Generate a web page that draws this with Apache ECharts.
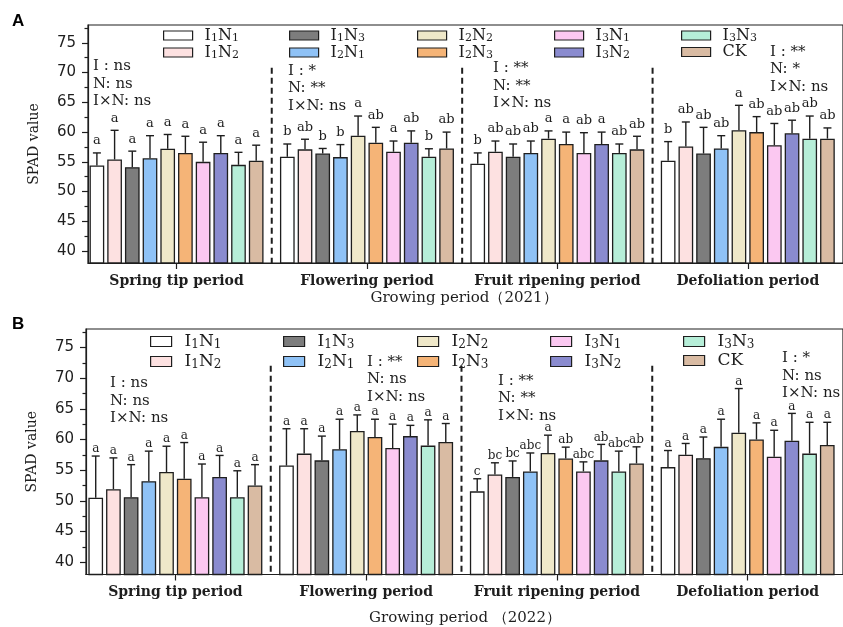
<!DOCTYPE html>
<html><head><meta charset="utf-8">
<script src="https://cdn.jsdelivr.net/npm/echarts@6/dist/echarts.min.js"></script>
<style>html,body{margin:0;padding:0;background:#fff}#c{width:843px;height:627px}</style>
</head><body><div id="c"></div>
<script>
// ---------- DATA ----------
const periods = ['Spring tip period', 'Flowering period', 'Fruit ripening period', 'Defoliation period'];
const treatments = ['I1N1', 'I1N2', 'I1N3', 'I2N1', 'I2N2', 'I2N3', 'I3N1', 'I3N2', 'I3N3', 'CK'];
const colors = ['#ffffff', '#fde1e1', '#7d7d7d', '#8fc2f6', '#efe8c9', '#f5b477', '#fbc8f1', '#8a8bcf', '#b6eed8', '#d9bba3'];
const yTicks = [40, 45, 50, 55, 60, 65, 70, 75];
const yMinorTicks = [42.5, 47.5, 52.5, 57.5, 62.5, 67.5, 72.5, 77.5];

// Panel A (2021) – means, SD, letters per period (order of treatments)
const meanA_spring = [54.4, 55.4, 54.1, 55.6, 57.2, 56.5, 55.0, 56.5, 54.5, 55.2];
const sdA_spring   = [2.1, 4.9, 2.7, 3.8, 2.4, 2.8, 3.3, 2.9, 2.1, 2.6];
const letA_spring  = ['a', 'a', 'a', 'a', 'a', 'a', 'a', 'a', 'a', 'a'];
const meanA_flower = [55.85, 57.1, 56.4, 55.8, 59.4, 58.2, 56.7, 58.2, 55.85, 57.25];
const sdA_flower   = [2.15, 1.7, 0.85, 2.1, 3.3, 2.6, 1.8, 2.0, 1.35, 2.75];
const letA_flower  = ['b', 'ab', 'b', 'b', 'a', 'ab', 'a', 'ab', 'b', 'ab'];
const meanA_fruit  = [54.7, 56.7, 55.85, 56.5, 58.9, 58.0, 56.5, 58.0, 56.5, 57.1];
const sdA_fruit    = [1.8, 1.8, 2.15, 2.0, 1.3, 2.0, 3.4, 2.0, 1.5, 2.2];
const letA_fruit   = ['b', 'ab', 'ab', 'ab', 'a', 'a', 'ab', 'a', 'ab', 'ab'];
const meanA_defol  = [55.2, 57.6, 56.4, 57.25, 60.3, 60.0, 57.8, 59.8, 58.9, 58.9];
const sdA_defol    = [3.2, 4.1, 4.4, 2.15, 4.2, 2.6, 3.65, 2.2, 3.8, 1.8];
const letA_defol   = ['b', 'ab', 'ab', 'ab', 'a', 'ab', 'ab', 'ab', 'ab', 'ab'];
const sigA = [['ns', 'ns', 'ns'], ['*', '**', 'ns'], ['**', '**', 'ns'], ['**', '*', 'ns']];

// Panel B (2022)
const meanB_spring = [50.5, 51.9, 50.6, 53.2, 54.7, 53.6, 50.6, 53.9, 50.6, 52.5];
const sdB_spring   = [6.8, 5.1, 5.3, 4.9, 4.2, 5.9, 5.4, 3.5, 4.3, 3.4];
const letB_spring  = ['a', 'a', 'a', 'a', 'a', 'a', 'a', 'a', 'a', 'a'];
const meanB_flower = [55.75, 57.7, 56.6, 58.4, 61.4, 60.4, 58.6, 60.55, 59.0, 59.6];
const sdB_flower   = [6.0, 4.05, 3.95, 4.9, 2.6, 2.9, 3.9, 1.75, 4.2, 3.0];
const letB_flower  = ['a', 'a', 'a', 'a', 'a', 'a', 'a', 'a', 'a', 'a'];
const meanB_fruit  = [51.55, 54.3, 53.9, 54.8, 57.8, 56.9, 54.8, 56.6, 54.8, 56.1];
const sdB_fruit    = [2.05, 1.9, 2.6, 3.0, 2.9, 1.85, 1.55, 2.6, 3.3, 2.7];
const letB_fruit   = ['c', 'bc', 'bc', 'abc', 'a', 'ab', 'abc', 'ab', 'abc', 'ab'];
const meanB_defol  = [55.5, 57.5, 56.95, 58.8, 61.1, 60.0, 57.2, 59.8, 57.7, 59.1];
const sdB_defol    = [2.7, 1.85, 3.45, 4.5, 7.2, 2.7, 4.3, 4.45, 5.1, 3.7];
const letB_defol   = ['a', 'a', 'a', 'a', 'a', 'a', 'a', 'a', 'a', 'a'];
const sigB = [['ns', 'ns', 'ns'], ['**', 'ns', 'ns'], ['**', '**', 'ns'], ['*', 'ns', 'ns']];

// ---------- BUILD ----------
const SERIF = 'DejaVu Serif';
const SANS = 'DejaVu Sans';
const INK = '#1e1e1e';
const BAR_W = 14.7, BAR_GAP = 3.0, PITCH = BAR_W + BAR_GAP;

const panels = [
  { means: [meanA_spring, meanA_flower, meanA_fruit, meanA_defol],
    sds: [sdA_spring, sdA_flower, sdA_fruit, sdA_defol],
    lets: [letA_spring, letA_flower, letA_fruit, letA_defol],
    sig: sigA, xmin: 0.035, grid: { left: 88, right: -12.2, top: 25, bottom: 364 },
    divTop: 70.8, letOff: 12, letSize: 13 },
  { means: [meanB_spring, meanB_flower, meanB_fruit, meanB_defol],
    sds: [sdB_spring, sdB_flower, sdB_fruit, sdB_defol],
    lets: [letB_spring, letB_flower, letB_fruit, letB_defol],
    sig: sigB, xmin: 0.0315, grid: { left: 86, right: -12.1, top: 329, bottom: 52.5 },
    divTop: 72.0, letOff: 7, letSize: 12 }
];

const grids = [], xAxes = [], yAxes = [], series = [];
panels.forEach((P, g) => {
  grids.push(Object.assign({ show: true, borderColor: INK, borderWidth: 1.2, backgroundColor: 'transparent' }, P.grid));
  xAxes.push({
    type: 'value', gridIndex: g, min: P.xmin, max: 4, splitLine: { show: false },
    axisLine: { show: true, onZero: false, lineStyle: { color: INK, width: 1.2 } },
    axisTick: { show: true, customValues: [0.5, 1.5, 2.5, 3.5], length: 6, lineStyle: { color: INK, width: 1.2 } },
    axisLabel: { show: true, customValues: [0.5, 1.5, 2.5, 3.5], margin: 11,
      formatter: v => periods[Math.floor(v)], fontFamily: SERIF, fontWeight: 'bold', fontSize: 14, color: INK }
  });
  yAxes.push({
    type: 'value', gridIndex: g, min: 38, max: 78, position: 'left',
    name: 'SPAD value', nameLocation: 'middle', nameGap: 47,
    nameTextStyle: { fontFamily: SERIF, fontSize: 14, color: INK },
    splitLine: { show: false },
    axisLine: { show: true, lineStyle: { color: INK, width: 1.2 } },
    axisTick: { show: true, customValues: yTicks, length: 6, lineStyle: { color: INK, width: 1.2 } },
    axisLabel: { show: true, customValues: yTicks, margin: 12, fontFamily: SANS, fontSize: 15, color: INK }
  });
  yAxes.push({
    type: 'value', gridIndex: g, min: 38, max: 78, position: 'left',
    splitLine: { show: false }, axisLine: { show: false },
    axisTick: { show: true, customValues: yMinorTicks, length: 3.5, lineStyle: { color: INK, width: 1.2 } },
    axisLabel: { show: false }
  });
  treatments.forEach((t, j) => {
    series.push({
      type: 'bar', name: t, xAxisIndex: g, yAxisIndex: 2 * g,
      barWidth: BAR_W, barGap: (BAR_GAP / BAR_W * 100).toFixed(1) + '%',
      itemStyle: { color: colors[j], borderColor: INK, borderWidth: 1.3 },
      data: periods.map((p, k) => [k + 0.5, P.means[k][j]]),
      silent: true
    });
  });
  const errData = [];
  periods.forEach((p, k) => treatments.forEach((t, j) => {
    errData.push([k + 0.5, P.means[k][j], +(P.means[k][j] + P.sds[k][j]).toFixed(2), j, k]);
  }));
  series.push({
    type: 'custom', xAxisIndex: g, yAxisIndex: 2 * g, silent: true, z: 5,
    encode: { x: 0, y: [1, 2] },
    data: errData,
    renderItem: (params, api) => {
      const x = api.value(0), m = api.value(1), c = api.value(2), j = api.value(3), k = api.value(4);
      const p0 = api.coord([x, m]), p1 = api.coord([x, c]);
      const cx = p0[0] + (j - 4.5) * PITCH;
      return { type: 'group', children: [
        { type: 'line', shape: { x1: cx, y1: p0[1], x2: cx, y2: p1[1] }, style: { stroke: INK, lineWidth: 1.4 } },
        { type: 'line', shape: { x1: cx - 4, y1: p1[1], x2: cx + 4, y2: p1[1] }, style: { stroke: INK, lineWidth: 1.4 } },
        { type: 'text', x: cx, y: p1[1] - P.letOff,
          style: { text: P.lets[k][j], fontFamily: SERIF, fontSize: P.letSize, fill: INK, align: 'center', verticalAlign: 'middle' } }
      ] };
    }
  });
  series.push({
    type: 'custom', xAxisIndex: g, yAxisIndex: 2 * g, silent: true, z: 4,
    encode: { x: 0, y: 1 },
    data: [[1, P.divTop], [2, P.divTop], [3, P.divTop]],
    renderItem: (params, api) => {
      const a = api.coord([api.value(0), api.value(1)]), b = api.coord([api.value(0), 38]);
      return { type: 'line', shape: { x1: a[0], y1: a[1], x2: b[0], y2: b[1] },
        style: { stroke: INK, lineWidth: 2, lineDash: [6, 4] } };
    }
  });
});

// legends
const legCols = [[0, 1], [2, 3], [4, 5], [6, 7], [8, 9]];
const legCfg = [
  { lefts: [163, 289, 417, 554, 681], top: 27, w: 29, h: 9, fs: 16, ss: 11, pad: 7, gap: 0 },
  { lefts: [150, 283, 417, 550, 683], top: 332, w: 21, h: 10, fs: 17, ss: 12, pad: 8, gap: 1 }
];
const legends = [];
legCfg.forEach(L => {
  legCols.forEach((col, ci) => {
    legends.push({
      orient: 'vertical', left: L.lefts[ci], top: L.top, padding: 0, itemGap: L.gap,
      itemWidth: L.w, itemHeight: L.h, icon: 'rect', selectedMode: false,
      data: col.map(j => treatments[j]),
      itemStyle: { borderColor: INK, borderWidth: 1.2 },
      formatter: n => n === 'CK' ? '{n|CK}' : '{n|I}{s|' + n[1] + '}{n|N}{s|' + n[3] + '}',
      textStyle: { padding: [0, 0, 0, L.pad], color: INK,
        rich: { n: { fontFamily: SERIF, fontSize: L.fs, color: INK, lineHeight: L.fs },
                s: { fontFamily: SERIF, fontSize: L.ss, color: INK, lineHeight: L.ss, padding: [Math.round(L.fs * 0.4), 0, 0, 0] } } }
    });
  });
});

// significance annotation text
const sigPos = [
  [[93, 57.5], [288, 62], [493, 59.5], [770, 43]],
  [[110, 374.5], [367, 353], [498, 372], [782, 349.5]]
];
const graphics = [];
panels.forEach((P, g) => {
  P.sig.forEach((s, k) => {
    graphics.push({ type: 'text', x: sigPos[g][k][0], y: sigPos[g][k][1], silent: true,
      style: { text: 'I : ' + s[0] + '\nN: ' + s[1] + '\nI×N: ' + s[2], fontFamily: SERIF, fontSize: 15,
        lineHeight: 17.5, fill: INK, verticalAlign: 'top' } });
  });
});
graphics.push({ type: 'text', x: 464, y: 298, style: { text: 'Growing period（2021）', fontFamily: SERIF, fontSize: 15, fill: INK, align: 'center', verticalAlign: 'middle' } });
graphics.push({ type: 'text', x: 465, y: 618, style: { text: 'Growing period （2022）', fontFamily: SERIF, fontSize: 15, fill: INK, align: 'center', verticalAlign: 'middle' } });
graphics.push({ type: 'text', x: 12, y: 21, style: { text: 'A', fontFamily: 'Liberation Sans', fontWeight: 'bold', fontSize: 17, fill: '#000', verticalAlign: 'middle' } });
graphics.push({ type: 'text', x: 12, y: 324, style: { text: 'B', fontFamily: 'Liberation Sans', fontWeight: 'bold', fontSize: 17, fill: '#000', verticalAlign: 'middle' } });

const chart = echarts.init(document.getElementById('c'));
chart.setOption({
  animation: false, backgroundColor: '#fff',
  grid: grids, xAxis: xAxes, yAxis: yAxes, legend: legends, series: series, graphic: graphics
});
</script></body></html>
